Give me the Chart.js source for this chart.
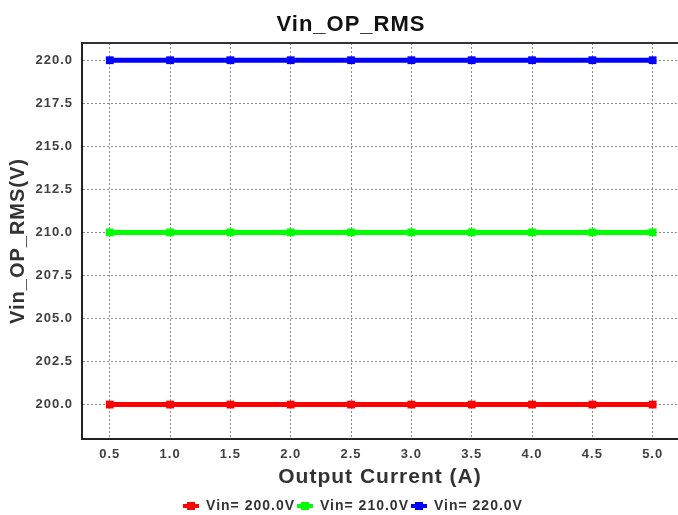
<!DOCTYPE html>
<html>
<head>
<meta charset="utf-8">
<script src="https://cdn.jsdelivr.net/npm/chart.js@4/dist/chart.umd.min.js"></script>
<style>
  html, body { margin: 0; padding: 0; background: #fff; }
  #wrap { width: 678px; height: 515px; }
</style>
</head>
<body>
<div id="wrap"><canvas id="chart"></canvas></div>
<script>
// data
const currents = [0.5, 1.0, 1.5, 2.0, 2.5, 3.0, 3.5, 4.0, 4.5, 5.0];
const vin200 = [200.0, 200.0, 200.0, 200.0, 200.0, 200.0, 200.0, 200.0, 200.0, 200.0];
const vin210 = [210.0, 210.0, 210.0, 210.0, 210.0, 210.0, 210.0, 210.0, 210.0, 210.0];
const vin220 = [220.0, 220.0, 220.0, 220.0, 220.0, 220.0, 220.0, 220.0, 220.0, 220.0];
const seriesNames = ["Vin= 200.0V", "Vin= 210.0V", "Vin= 220.0V"];
const seriesColors = ["#ff0000", "#00ff00", "#0000ff"];
const xTicks = [0.5, 1.0, 1.5, 2.0, 2.5, 3.0, 3.5, 4.0, 4.5, 5.0];
const yTicks = [200.0, 202.5, 205.0, 207.5, 210.0, 212.5, 215.0, 217.5, 220.0];

const FONT = "Liberation Sans, Arial, sans-serif";
const toPoints = (vals) => vals.map((v, i) => ({ x: currents[i], y: v }));

function series(label, vals, color) {
  return {
    label: label,
    data: toPoints(vals),
    borderColor: color,
    backgroundColor: color,
    borderWidth: 5,
    pointStyle: "rect",
    pointRadius: 5.5,
    pointBorderWidth: 0,
    pointBackgroundColor: color,
    fill: false,
  };
}

// little line + square icon for the legend
function legendIcon(color) {
  const c = document.createElement("canvas");
  c.width = 16;
  c.height = 8;
  const g = c.getContext("2d");
  g.fillStyle = color;
  g.fillRect(0, 2, 16, 4);
  g.fillRect(4, 0, 8, 8);
  return c;
}

// wider letter spacing like the original renderer
const spacing = {
  id: "spacing",
  beforeInit(chart) { chart.ctx.letterSpacing = "1px"; },
  beforeUpdate(chart) { chart.ctx.letterSpacing = "1px"; },
  beforeDraw(chart) { chart.ctx.letterSpacing = "1px"; },
  // title and legend sit a bit right of the canvas centre in the original
  afterLayout(chart) {
    chart.legend.left += 14;
    chart.legend.right += 14;
    chart.titleBlock.left += 12;
    chart.titleBlock.right += 12;
  },
};

// top frame line
const topBorder = {
  id: "topBorder",
  afterDraw(chart) {
    const { ctx, chartArea } = chart;
    ctx.save();
    ctx.strokeStyle = "#333";
    ctx.lineWidth = 2;
    ctx.beginPath();
    ctx.moveTo(chartArea.left, chartArea.top);
    ctx.lineTo(chartArea.right, chartArea.top);
    ctx.stroke();
    ctx.restore();
  },
};

const tickColor = "#404040";
const gridStyle = {
  color: "#8c8c8c",
  lineWidth: 1,
  drawTicks: false,
  tickLength: 0,
};

const ctx = document.getElementById("chart").getContext("2d");
new Chart(ctx, {
  type: "line",
  data: {
    datasets: [
      series(seriesNames[0], vin200, seriesColors[0]),
      series(seriesNames[1], vin210, seriesColors[1]),
      series(seriesNames[2], vin220, seriesColors[2]),
    ],
  },
  plugins: [spacing, topBorder],
  options: {
    responsive: true,
    maintainAspectRatio: false,
    animation: false,
    layout: { autoPadding: false, padding: { left: 0, right: 0, top: 0, bottom: -8 } },
    plugins: {
      title: {
        display: true,
        text: "Vin_OP_RMS",
        color: "#111",
        font: { family: FONT, size: 22, weight: "bold" },
        padding: { top: 12, bottom: 4.6 },
      },
      legend: {
        position: "bottom",
        labels: {
          color: "#333",
          font: { family: FONT, size: 14, weight: "bold", lineHeight: 1 },
          usePointStyle: true,
          pointStyleWidth: 16,
          boxHeight: 8,
          padding: 2,
          generateLabels: (chart) => {
            const items = Chart.defaults.plugins.legend.labels.generateLabels(chart);
            items.forEach((it, i) => { it.pointStyle = legendIcon(seriesColors[i]); });
            return items;
          },
        },
      },
      tooltip: { enabled: false },
    },
    scales: {
      x: {
        type: "linear",
        min: 0.27,
        max: 5.21,
        afterBuildTicks: (scale) => { scale.ticks = xTicks.map((v) => ({ value: v })); },
        afterFit: (scale) => {
          scale.height = 58;
          scale.paddingRight = 0;
          scale.paddingLeft = 0;
        },
        grid: Object.assign({}, gridStyle),
        border: { display: true, color: "#222", width: 2, dash: [2, 2] },
        ticks: {
          color: tickColor,
          padding: 8,
          font: { family: FONT, size: 13, weight: "bold" },
          callback: (v) => Number(v).toFixed(1),
          maxRotation: 0,
        },
        title: {
          display: true,
          text: "Output Current (A)",
          color: "#333",
          font: { family: FONT, size: 21, weight: "bold" },
          padding: { top: 0, bottom: 7 },
        },
      },
      y: {
        type: "linear",
        min: 198,
        max: 221,
        afterBuildTicks: (scale) => { scale.ticks = yTicks.map((v) => ({ value: v })); },
        afterFit: (scale) => { scale.width = 82; },
        grid: Object.assign({}, gridStyle),
        border: { display: true, color: "#222", width: 2, dash: [2, 2] },
        ticks: {
          color: tickColor,
          padding: 9,
          font: { family: FONT, size: 13, weight: "bold" },
          callback: (v) => Number(v).toFixed(1),
        },
        title: {
          display: true,
          text: "Vin_OP_RMS(V)",
          color: "#333",
          font: { family: FONT, size: 20, weight: "bold" },
          padding: { top: 6, bottom: 0 },
        },
      },
    },
  },
});
</script>
</body>
</html>
